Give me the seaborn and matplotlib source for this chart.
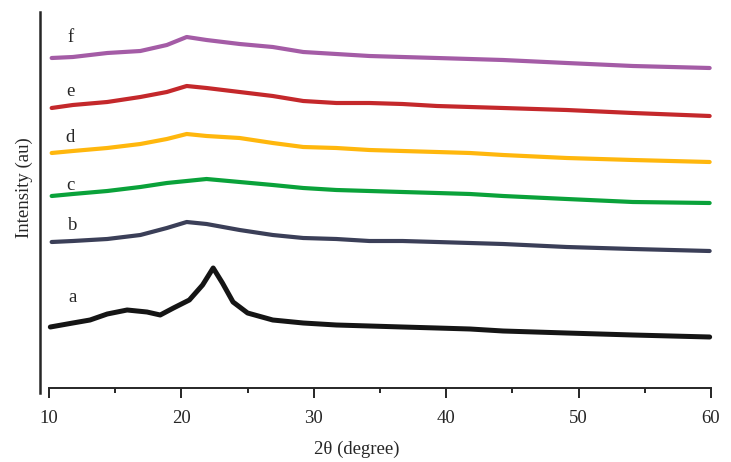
import numpy as np
import pandas as pd
import matplotlib
matplotlib.use("Agg")
import matplotlib.pyplot as plt
from matplotlib.ticker import MultipleLocator
import seaborn as sns

# 2-theta grid (degree)
two_theta = [10.2, 11.8, 14.4, 16.9, 18.9, 20.4, 21.9, 24.4, 26.9, 29.2,
             31.7, 34.2, 36.7, 39.3, 41.8, 44.3, 49.1, 54.1, 59.9]
two_theta_a = [10.1, 11.8, 13.1, 14.4, 15.9, 17.4, 18.4, 19.4, 20.6, 21.6,
               22.4, 23.1, 23.9, 25.0, 26.9, 29.2, 31.7, 34.2, 36.7, 39.3,
               41.8, 44.3, 49.1, 54.1, 59.9]

# stacked intensities (au, offset per sample)
int_a = [66, 70, 73, 79, 83, 81, 78, 85, 93, 108, 125, 110, 91, 80, 73, 70,
         68, 67, 66, 65, 64, 62, 60, 58, 56]
int_b = [151, 152, 154, 158, 165, 171, 169, 163, 158, 155, 154, 152, 152,
         151, 150, 149, 146, 144, 142]
int_c = [197, 199, 202, 206, 210, 212, 214, 211, 208, 205, 203, 202, 201,
         200, 199, 197, 194, 191, 190]
int_d = [240, 242, 245, 249, 254, 259, 257, 255, 250, 246, 245, 243, 242,
         241, 240, 238, 235, 233, 231]
int_e = [285, 288, 291, 296, 301, 307, 305, 301, 297, 292, 290, 290, 289,
         287, 286, 285, 283, 280, 277]
int_f = [335, 336, 340, 342, 348, 356, 353, 349, 346, 341, 339, 337, 336,
         335, 334, 333, 330, 327, 325]

samples = ["a", "b", "c", "d", "e", "f"]
colors = ["#151515", "#3b3f58", "#0aa23a", "#ffb70d", "#c4282b", "#a45ca6"]
label_y = [95, 167, 207, 255, 301, 356]

series = [(two_theta_a, int_a), (two_theta, int_b), (two_theta, int_c),
          (two_theta, int_d), (two_theta, int_e), (two_theta, int_f)]

sns.set_style("ticks")
plt.rcParams["font.family"] = ["Liberation Serif", "DejaVu Serif"]

fig = plt.figure(figsize=(7.31, 4.62), dpi=100)
ax = fig.add_axes([40 / 731, 1 - 393 / 462, 677.6 / 731, 381 / 462])

for name, (xs, ys), col in zip(samples, series, colors):
    df = pd.DataFrame({"two_theta": xs, "intensity": ys})
    lw = 3.6 if name == "a" else 3.0
    sns.lineplot(data=df, x="two_theta", y="intensity", color=col,
                 linewidth=lw, ax=ax)

for name, yy in zip(samples, label_y):
    xx = 11.6 if name in "cdef" else 11.8
    ax.text(xx, yy, name, fontsize=13.5, ha="center", va="center")

ax.set_xlim(9.32, 60.5)
ax.set_ylim(0, 381)

ax.spines["top"].set_visible(False)
ax.spines["right"].set_visible(False)
ax.spines["left"].set_linewidth(1.8)
ax.spines["bottom"].set_linewidth(1.4)
ax.spines["bottom"].set_position(("data", 5))
ax.spines["bottom"].set_bounds(10, 60)

ax.set_yticks([])
ax.xaxis.set_major_locator(MultipleLocator(10))
ax.xaxis.set_minor_locator(MultipleLocator(5))
ax.tick_params(axis="x", which="major", length=7.5, width=1.4, pad=8,
               labelsize=13.5, direction="out")
ax.tick_params(axis="x", which="minor", length=3.8, width=1.4,
               direction="out")

ax.set_xlabel("2θ (degree)", fontsize=13.5)
ax.xaxis.set_label_coords(0.468, -0.125)
ax.set_ylabel("Intensity (au)", fontsize=13.5)
ax.yaxis.set_label_coords(-0.010, 0.538)

fig.savefig("out.png", dpi=100)
